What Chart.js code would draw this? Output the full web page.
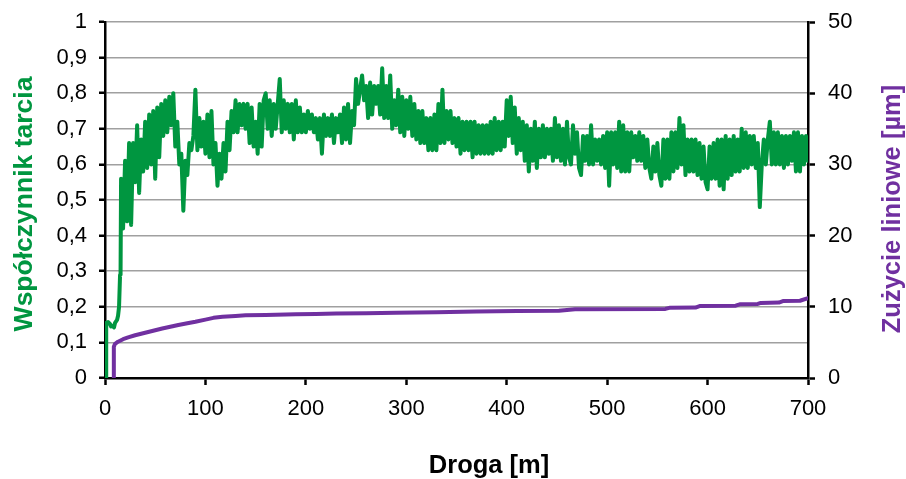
<!DOCTYPE html>
<html>
<head>
<meta charset="utf-8">
<script src="https://cdn.jsdelivr.net/npm/chart.js@4/dist/chart.umd.min.js"></script>
<style>
html,body{margin:0;padding:0;background:#fff;}
#wrap{width:906px;height:479px;position:relative;}
</style>
</head>
<body>
<div id="wrap"><canvas id="c" width="906" height="479"></canvas></div>
<script>
// ---- data ----
const xTickLabels = ['0','100','200','300','400','500','600','700'];
const leftTickLabels = ['0','0,1','0,2','0,3','0,4','0,5','0,6','0,7','0,8','0,9','1'];
const rightTickLabels = ['0','10','20','30','40','50'];

const xTitle = 'Droga [m]';
const leftTitle = 'Współczynnik tarcia';
const rightTitle = 'Zużycie liniowe [µm]';

// friction coefficient vs sliding distance [m]
const distance = [1,1.2,3,5,6,8,9,10,12,13,14,15,15.5,
16,18,20,22,24,26,28,30,32,34,
36,38,40,42,44,46,48,50,52,54,
56,58,60,62,64,66,68,70,72,74,
76,78,80,82,84,86,88,90,92,94,
96,98,100,102,104,106,108,110,112,114,
116,118,120,122,124,126,128,130,132,134,
136,138,140,142,144,146,148,150,152,154,
156,158,160,162,164,166,168,170,172,174,
176,178,180,182,184,186,188,190,192,194,
196,198,200,202,204,206,208,210,212,214,
216,218,220,222,224,226,228,230,232,234,
236,238,240,242,244,246,248,250,252,254,
256,258,260,262,264,266,268,270,272,274,
276,278,280,282,284,286,288,290,292,294,
296,298,300,302,304,306,308,310,312,314,
316,318,320,322,324,326,328,330,332,334,
336,338,340,342,344,346,348,350,352,354,
356,358,360,362,364,366,368,370,372,374,
376,378,380,382,384,386,388,390,392,394,
396,398,400,402,404,406,408,410,412,414,
416,418,420,422,424,426,428,430,432,434,
436,438,440,442,444,446,448,450,452,454,
456,458,460,462,464,466,468,470,472,474,
476,478,480,482,484,486,488,490,492,494,
496,498,500,502,504,506,508,510,512,514,
516,518,520,522,524,526,528,530,532,534,
536,538,540,542,544,546,548,550,552,554,
556,558,560,562,564,566,568,570,572,574,
576,578,580,582,584,586,588,590,592,594,
596,598,600,602,604,606,608,610,612,614,
616,618,620,622,624,626,628,630,632,634,
636,638,640,642,644,646,648,650,652,654,
656,658,660,662,664,666,668,670,672,674,
676,678,680,682,684,686,688,690,692,694,
696,698,700];
const friction = [0,0.155,0.157,0.152,0.145,0.147,0.142,0.155,0.163,0.175,0.2,0.29,0.3,
.56,.42,.61,.44,.66,.43,.66,.55,.71,.52,
.67,.58,.72,.59,.74,.60,.75,.56,.76,.62,
.77,.68,.78,.69,.79,.71,.80,.65,.72,.60,
.63,.47,.61,.57,.66,.64,.68,.81,.64,.73,
.65,.72,.63,.74,.62,.75,.60,.66,.54,.63,
.56,.66,.58,.72,.64,.75,.69,.78,.69,.77,
.71,.77,.70,.77,.66,.76,.65,.72,.63,.77,
.65,.78,.80,.70,.78,.68,.77,.70,.77,.84,
.69,.78,.70,.77,.69,.77,.67,.78,.69,.76,
.69,.74,.69,.75,.70,.74,.69,.73,.67,.73,
.63,.74,.68,.73,.68,.74,.66,.73,.69,.74,
.66,.76,.67,.77,.66,.75,.71,.84,.77,.81,
.85,.78,.82,.73,.83,.74,.82,.77,.82,.74,
.87,.73,.82,.73,.85,.70,.78,.71,.81,.69,
.79,.68,.78,.70,.79,.68,.77,.67,.75,.66,
.75,.66,.73,.64,.73,.64,.74,.64,.77,.66,
.81,.66,.75,.67,.75,.66,.73,.65,.73,.63,
.72,.64,.72,.64,.72,.62,.72,.63,.71,.63,
.71,.63,.71,.63,.72,.63,.73,.64,.72,.64,
.72,.65,.78,.68,.79,.66,.76,.63,.73,.64,
.72,.61,.71,.58,.70,.61,.72,.59,.70,.62,
.71,.62,.70,.63,.70,.61,.73,.62,.71,.61,
.70,.60,.72,.62,.60,.71,.63,.69,.59,.57,
.68,.61,.68,.60,.71,.60,.67,.61,.67,.60,
.68,.59,.69,.54,.69,.60,.69,.59,.72,.58,
.71,.58,.69,.58,.69,.62,.68,.61,.69,.61,
.68,.59,.67,.59,.56,.65,.58,.66,.57,.54,
.67,.56,.67,.56,.69,.58,.69,.59,.73,.60,
.71,.57,.67,.58,.67,.58,.67,.57,.66,.56,
.65,.55,.53,.65,.56,.66,.56,.67,.54,.67,
.53,.68,.56,.67,.57,.68,.58,.67,.58,.70,
.59,.69,.59,.68,.60,.68,.59,.66,.48,.60,
.67,.60,.67,.72,.60,.69,.60,.69,.60,.68,
.59,.68,.60,.68,.61,.69,.58,.69,.58,.68,
.60,.68,.61];

// linear wear [µm] vs sliding distance [m]
const wearDistance = [8.5,8.8,10,13,18,23,30,40,50,57,65,73,82,90,100,108,117,130,140,160,190,210,230,260,290,330,370,410,452,468,558,562,588,592,628,632,650,653,671,675,692,700];
const wear = [0,4.4,4.8,5.1,5.45,5.7,6.0,6.35,6.7,6.95,7.2,7.45,7.7,7.9,8.2,8.45,8.6,8.7,8.8,8.85,8.95,9.0,9.05,9.1,9.15,9.25,9.35,9.4,9.45,9.65,9.7,9.85,9.9,10.1,10.15,10.35,10.4,10.55,10.6,10.8,10.85,11.2];

// ---- styles ----
const GREEN = '#009640';
const PURPLE = '#7030a0';
const FONT = '"Liberation Sans", Arial, sans-serif';

const frictionPts = distance.map((d, i) => ({x: d, y: friction[i]}));
const wearPts = wearDistance.map((d, i) => ({x: d, y: wear[i]}));

const titlesPlugin = {
  id: 'axisTitles',
  afterDraw(chart) {
    const ctx = chart.ctx;
    ctx.save();
    ctx.textAlign = 'center';
    ctx.textBaseline = 'alphabetic';
    ctx.save();
    ctx.font = 'bold 26.5px ' + FONT;
    ctx.fillStyle = GREEN;
    ctx.translate(31.5, 204);
    ctx.rotate(-Math.PI / 2);
    ctx.fillText(leftTitle, 0, 0);
    ctx.restore();
    ctx.save();
    ctx.font = 'bold 25.5px ' + FONT;
    ctx.fillStyle = PURPLE;
    ctx.translate(900, 209);
    ctx.rotate(-Math.PI / 2);
    ctx.fillText(rightTitle, 0, 0);
    ctx.restore();
    ctx.font = 'bold 25.5px ' + FONT;
    ctx.fillStyle = '#000';
    ctx.fillText(xTitle, 489, 473);
    ctx.restore();
  }
};

function fixV(w) {
  return function (s) { s.width = w; s.paddingTop = 0; s.paddingBottom = 0; };
}

new Chart(document.getElementById('c'), {
  type: 'line',
  data: {
    datasets: [
      {
        label: leftTitle,
        data: frictionPts,
        yAxisID: 'y',
        borderColor: GREEN,
        backgroundColor: GREEN,
        borderWidth: 4,
        pointRadius: 0,
        tension: 0,
        borderJoinStyle: 'round',
        borderCapStyle: 'round',
        order: 1
      },
      {
        label: rightTitle,
        data: wearPts,
        yAxisID: 'y2',
        borderColor: PURPLE,
        backgroundColor: PURPLE,
        borderWidth: 4,
        pointRadius: 0,
        tension: 0,
        borderJoinStyle: 'round',
        borderCapStyle: 'round',
        order: 0
      }
    ]
  },
  options: {
    responsive: false,
    animation: false,
    devicePixelRatio: 1,
    layout: { padding: { top: 22, left: 0, right: 0, bottom: 0 } },
    plugins: { legend: { display: false }, tooltip: { enabled: false } },
    scales: {
      x: {
        type: 'linear',
        min: 0, max: 700,
        afterFit(s) { s.height = 101; s.paddingLeft = 0; s.paddingRight = 0; },
        afterBuildTicks(s) { s.ticks = xTickLabels.map(t => ({value: Number(t)})); },
        ticks: {
          font: { family: FONT, size: 22 },
          color: '#000',
          padding: 11,
          maxRotation: 0,
          callback: (v, i) => xTickLabels[i]
        },
        grid: { drawOnChartArea: false, drawTicks: true, tickLength: 7, tickColor: '#000', tickWidth: 2.5 },
        border: { color: '#000', width: 2.5 }
      },
      y: {
        position: 'left',
        min: 0, max: 1,
        afterFit: fixV(105),
        afterBuildTicks(s) { s.ticks = leftTickLabels.map((t, i) => ({value: i / 10})); },
        ticks: {
          font: { family: FONT, size: 22 },
          color: '#000',
          padding: 12,
          callback: (v, i) => leftTickLabels[i]
        },
        grid: { color: '#a0a0a0', lineWidth: 1.5, drawTicks: true, tickLength: 6, tickColor: '#000', tickWidth: 2.5 },
        border: { color: '#000', width: 2.5 }
      },
      y2: {
        position: 'right',
        min: 0, max: 50,
        afterFit: fixV(98),
        afterBuildTicks(s) { s.ticks = rightTickLabels.map(t => ({value: Number(t)})); },
        ticks: {
          font: { family: FONT, size: 22 },
          color: '#000',
          padding: 13,
          callback: (v, i) => rightTickLabels[i]
        },
        grid: { drawOnChartArea: false, drawTicks: true, tickLength: 7, tickColor: '#000', tickWidth: 2.5 },
        border: { color: '#000', width: 2.5 }
      }
    }
  },
  plugins: [titlesPlugin]
});
</script>
</body>
</html>
